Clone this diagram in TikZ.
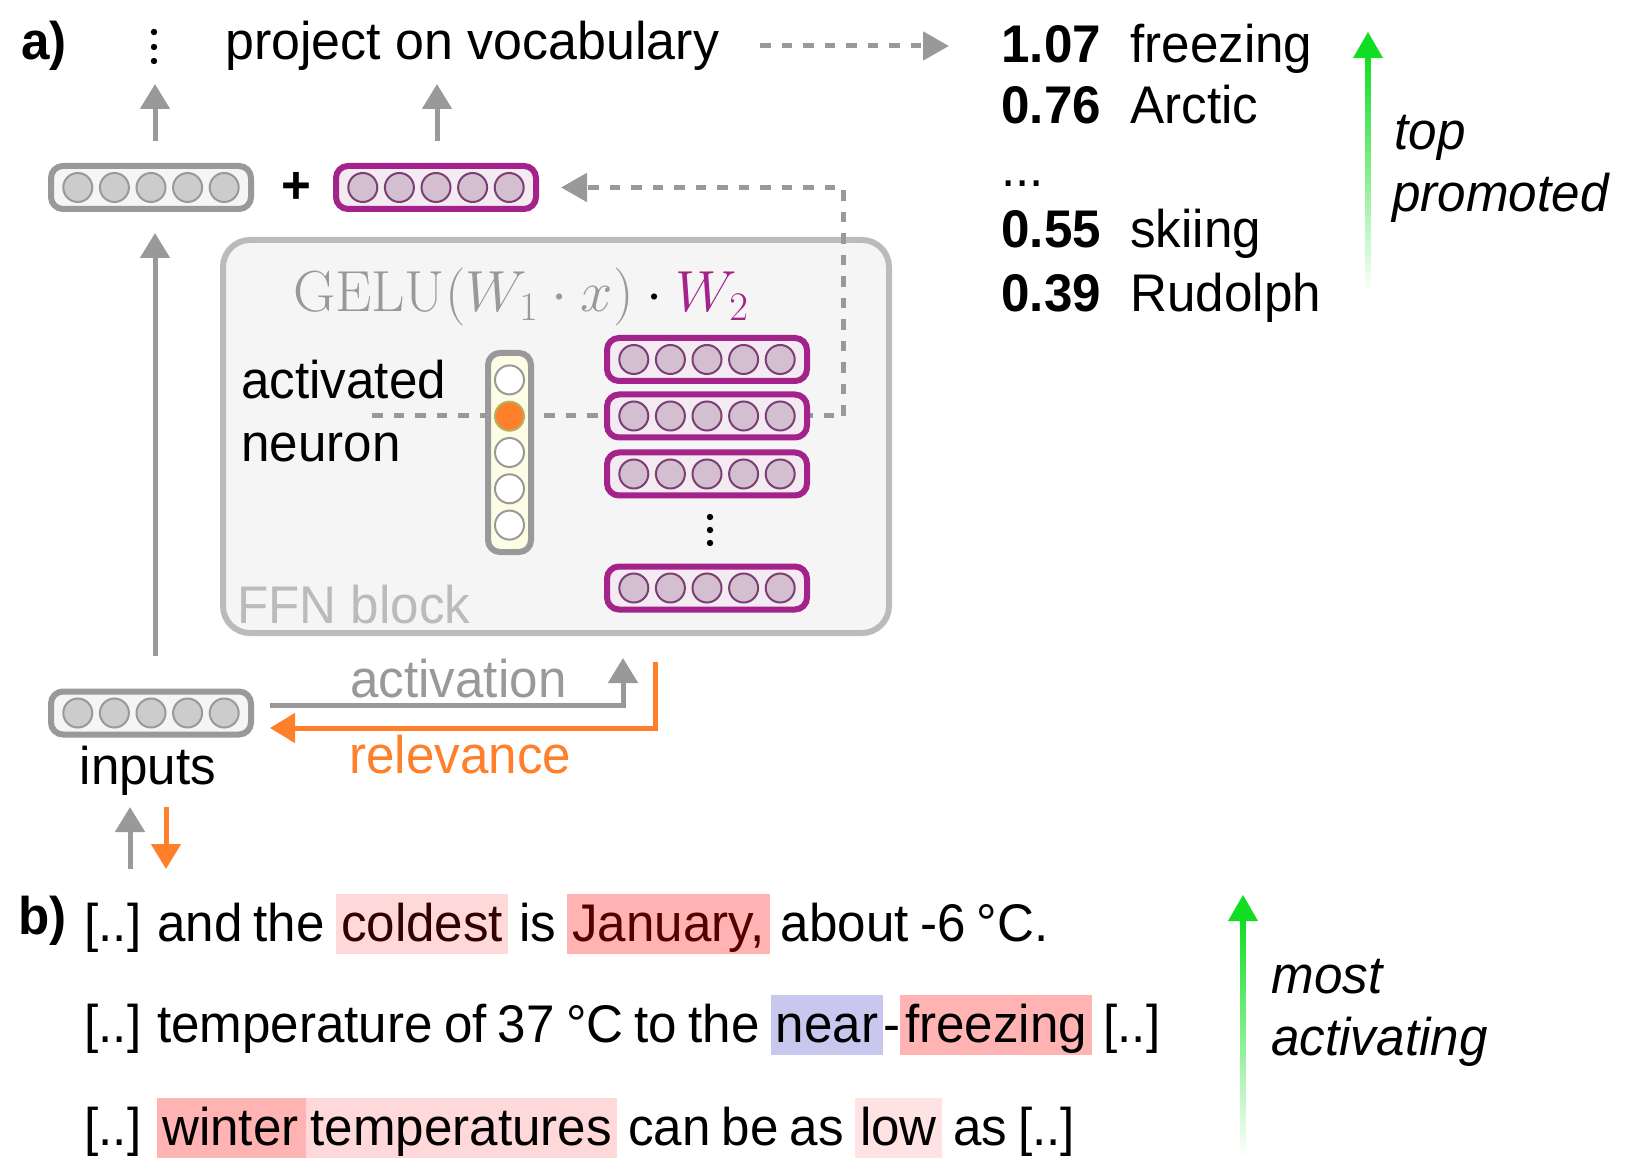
\RequirePackage{fix-cm}
\documentclass[tikz,border=0pt]{standalone}
\usepackage[no-math]{fontspec}
\setmainfont{Liberation Sans}[FakeStretch=0.965]
\usetikzlibrary{arrows.meta}
\definecolor{agray}{HTML}{999999}
\definecolor{bgray}{HTML}{999999}
\definecolor{boxfill}{HTML}{F5F5F5}
\definecolor{cgray}{HTML}{CCCCCC}
\definecolor{purp}{HTML}{A3238A}
\definecolor{purpfill}{HTML}{F3EAF2}
\definecolor{pcircf}{HTML}{D4BFD0}
\definecolor{pcircd}{HTML}{7B3F73}
\definecolor{ffnborder}{HTML}{BBBBBB}
\definecolor{ffnfill}{HTML}{F5F5F5}
\definecolor{colfill}{HTML}{FDFDE6}
\definecolor{orng}{HTML}{FF7F2A}
\definecolor{olive}{HTML}{B8B060}
\definecolor{grn}{HTML}{11DD22}
\definecolor{hlA}{HTML}{FFD9D9}
\definecolor{hlB}{HTML}{FFB3B3}
\definecolor{hlC}{HTML}{FFE2E2}
\definecolor{hlL}{HTML}{C8C8EE}
\definecolor{dredA}{HTML}{330000}
\definecolor{dredB}{HTML}{550000}
\newcommand\mainsz{\fontsize{26.5pt}{32pt}\selectfont}
\newcommand\hlbox[2]{{\setlength{\fboxsep}{0pt}\colorbox{#1}{\rule[-6.5pt]{0pt}{30pt}\hspace{2.5pt}#2\hspace{2.5pt}}}}
\newcommand\tightsp{\spaceskip=5.6pt plus 1pt minus 1pt\relax}
\tikzset{
  txt/.style={inner sep=0pt, font=\mainsz},
  gbox/.style={draw=bgray, fill=boxfill, line width=3pt, rounded corners=6pt, minimum width=100pt, minimum height=21.5pt, inner sep=0pt},
  pbox/.style={gbox, draw=purp, fill=purpfill},
  colbox/.style={gbox, fill=colfill, minimum width=21.5pt, minimum height=99.5pt},
  gcirc/.style={circle, draw=bgray, fill=cgray, line width=1pt, minimum size=14.5pt, inner sep=0pt},
  pcirc/.style={gcirc, draw=pcircd, fill=pcircf},
  ncirc/.style={gcirc, fill=white},
  ocirc/.style={gcirc, fill=orng, draw=olive},
  arr/.style={draw=agray, line width=2.5pt, -{Triangle[length=12.5pt,width=14.5pt]}},
  orarr/.style={arr, draw=orng, -{Triangle[length=12.5pt,width=14.5pt]}},
  dashline/.style={draw=agray, line width=2.5pt, dash pattern=on 5.25pt off 5.5pt},
  dasharr/.style={dashline, -{Triangle[length=13pt,width=14pt,sep=5pt]}},
}
\begin{document}
\begin{tikzpicture}[x=0.5pt,y=-0.5pt]
\useasboundingbox (0,0) rectangle (1644,1171);

% ---------- FFN block ----------
\node[draw=ffnborder, fill=ffnfill, line width=3pt, rounded corners=13.5pt,
      minimum width=333pt, minimum height=196.5pt, inner sep=0pt] (ffn) at (556,436.5) {};
\node[txt, anchor=base west, text=ffnborder] (ffnlab) at (237,623) {FFN block};
\node[anchor=base, inner sep=0pt, font=\fontsize{29pt}{32pt}\selectfont] (gelu) at (521,312)
  {$\color{agray}\mathrm{GELU}(W_1\cdot x)\color{black}\cdot\color{purp}W_2$};
\node[txt, anchor=base west] (act1) at (241,399) {activated};
\node[txt, anchor=base west] (act2) at (241,462) {neuron};

% dashed line through the activated neuron (drawn below the vectors)
\coordinate (dl) at (372,416);
\coordinate (fbk) at (843,416);
\draw[dashline] (dl) -- (fbk);

% top vectors
\node[gbox] (gtop) at (151,187.5) {};
\foreach \i in {-2,...,2} \node[gcirc] (gtop\i) at (151+36.6*\i,187.5) {};
\node[pbox] (ptop) at (436,187.5) {};
\foreach \i in {-2,...,2} \node[pcirc] (ptop\i) at (436+36.6*\i,187.5) {};
\node[txt, font=\mainsz\bfseries] (plus) at (296,188) {+};

% neuron column
\node[colbox] (col) at (509.5,452.5) {};
\foreach \i in {-2,0,1,2} \node[ncirc] (col\i) at (509.5,452.5+36.3*\i) {};
\node[ocirc] (colact) at (509.5,416.2) {};

% W2 rows
\foreach \n/\y in {a/359.5,b/416,c/474,n/588}{
  \node[pbox] (w2\n) at (707,\y) {};
  \foreach \i in {-2,...,2} \node[pcirc] (w2\n\i) at (707+36.6*\i,\y) {};
}
\foreach \y in {517,530,543} \fill (710,\y) circle[radius=1.6pt];

% feedback of the W2 row to the residual stream
\draw[dasharr] (fbk) |- ([xshift=6pt]ptop.east);

% inputs
\node[gbox] (inp) at (151,713) {};
\foreach \i in {-2,...,2} \node[gcirc] (inp\i) at (151+36.6*\i,713) {};
\node[txt, anchor=base] (inplab) at (148,784) {inputs};

% arrows
\draw[arr] ([xshift=2pt,yshift=11pt]gtop.north) -- ++(0,-57);
\draw[arr] ([xshift=0.5pt,yshift=11pt]ptop.north) -- ++(0,-57);
\draw[arr] ([xshift=2pt,yshift=16.5pt]inp.north) -- ([xshift=2pt,yshift=-10.5pt]gtop.south);
\foreach \y in {32,47,61} \fill (154,\y) circle[radius=1.6pt];

\coordinate (actend) at (623,658);
\coordinate (relstart) at (655,662);
\draw[arr] ([xshift=8pt,yshift=4pt]inp.east) -| (actend);
\draw[orarr] (relstart) |- ([xshift=8pt,yshift=-7.5pt]inp.east);
\node[txt, anchor=base west, text=agray] (actlab) at (350,697) {activation};
\node[txt, anchor=base west, text=orng] (rellab) at (349,773) {relevance};

\coordinate (ua) at (130,869); \coordinate (ub) at (130,807);
\coordinate (da) at (166,807); \coordinate (db) at (166,869);
\draw[arr] (ua) -- (ub);
\draw[orarr] (da) -- (db);

% top line
\node[txt, anchor=base west, font=\mainsz\bfseries] (alab) at (21,60) {a)};
\node[txt, anchor=base west] (proj) at (225,60) {\addfontfeature{FakeStretch=0.98}project on vocabulary};
\coordinate (vs) at (760,46); \coordinate (ve) at (949,46);
\draw[dashline, -{Triangle[length=13pt,width=14pt]}] (vs) -- (ve);

% vocabulary list
\node[txt, anchor=base west, font=\mainsz\bfseries] (v1) at (1001,63) {1.07};
\node[txt, anchor=base west] (t1) at (1130,63) {freezing};
\node[txt, anchor=base west, font=\mainsz\bfseries] (v2) at (1001,124) {0.76};
\node[txt, anchor=base west] (t2) at (1130,124) {Arctic};
\node[txt, anchor=base west] (vdots) at (1001,187) {...};
\node[txt, anchor=base west, font=\mainsz\bfseries] (v3) at (1001,248) {0.55};
\node[txt, anchor=base west] (t3) at (1130,248) {skiing};
\node[txt, anchor=base west, font=\mainsz\bfseries] (v4) at (1001,312) {0.39};
\node[txt, anchor=base west] (t4) at (1130,312) {Rudolph};

% green arrow 1
\shade[top color=grn, bottom color=white] (1365.5,56) rectangle (1370.5,293);
\fill[grn] (1368,32) -- (1353,58) -- (1383,58) -- cycle;
\node[txt, anchor=base west, font=\mainsz\itshape] (topl) at (1394,150) {top};
\node[txt, anchor=base west, font=\mainsz\itshape] (proml) at (1392,212) {promoted};

% b) section
\node[txt, anchor=base west, font=\mainsz\bfseries] (blab) at (18,934) {b)};
\node[txt, anchor=base west] (l1) at (84,941)
  {\tightsp [..] and the \hlbox{hlA}{\color{dredA}coldest} is \hlbox{hlB}{\color{dredB}January,} about -6 °C.};
\node[txt, anchor=base west] (l2) at (84,1042)
  {\tightsp [..] temperature of 37 °C to the \hlbox{hlL}{near}-\hlbox{hlB}{freezing} [..]};
\node[txt, anchor=base west] (l3) at (84,1145)
  {\tightsp [..] \hlbox{hlB}{winter\hspace{1pt}}\hlbox{hlA}{temperatures} can be as \hlbox{hlC}{low} as [..]};

% green arrow 2
\shade[top color=grn, bottom color=white] (1240.5,919) rectangle (1245.5,1157);
\fill[grn] (1243,895) -- (1228,921) -- (1258,921) -- cycle;
\node[txt, anchor=base west, font=\mainsz\itshape] (mostl) at (1271,993) {most};
\node[txt, anchor=base west, font=\mainsz\itshape] (activl) at (1271,1055) {activating};
\end{tikzpicture}
\end{document}
